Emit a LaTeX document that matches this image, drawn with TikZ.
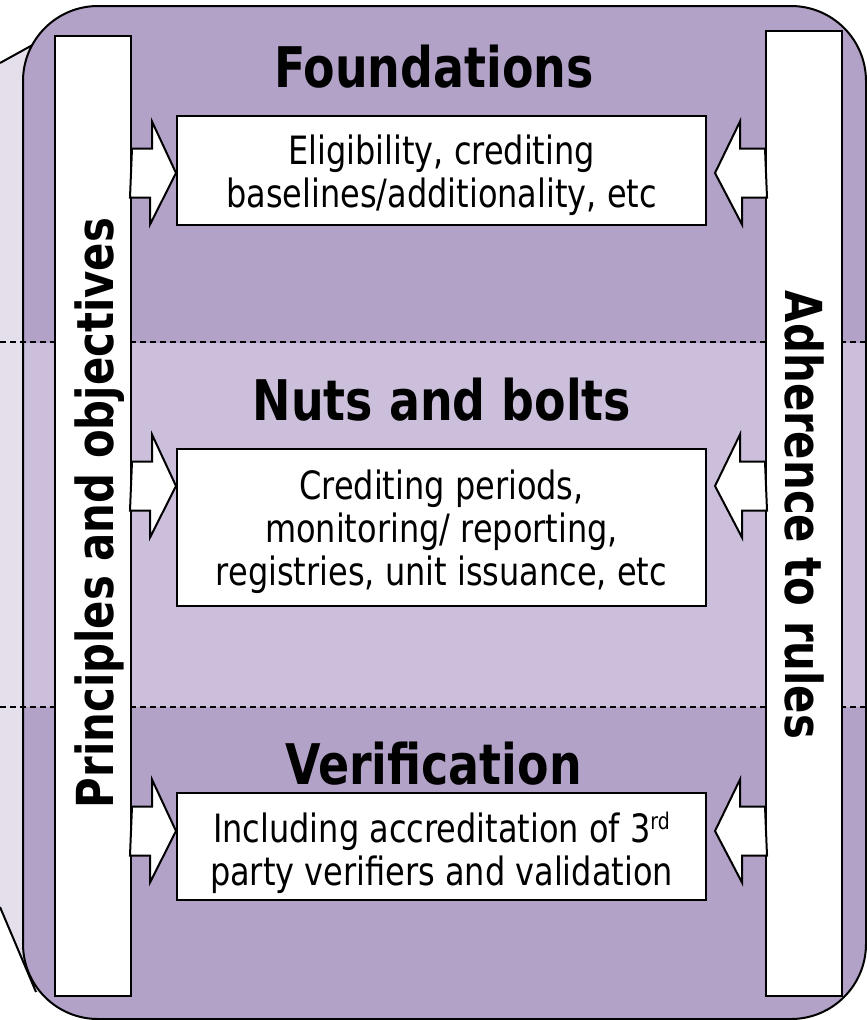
\documentclass[tikz,border=0pt]{standalone}
\usepackage{fontspec}
\usetikzlibrary{calc}
\newfontfamily\dvfont[FakeStretch=0.82]{DejaVu Sans}
\definecolor{pdark}{RGB}{178,162,200}
\definecolor{pmid}{RGB}{203,191,220}
\definecolor{plight}{RGB}{229,223,236}
\begin{document}
\begin{tikzpicture}[x=1pt,y=-1pt,line width=2pt,
  wbox/.style={draw=black,fill=white,inner sep=0pt,line width=2pt},
  titletext/.style={font=\dvfont\bfseries\fontsize{56}{60}\selectfont,anchor=base,inner sep=0pt},
  bodytext/.style={font=\dvfont\fontsize{39}{43}\selectfont,align=center,anchor=base,inner sep=0pt},
  sidetext/.style={font=\dvfont\bfseries\fontsize{51}{55}\selectfont,anchor=base,inner sep=0pt},
  blockarrow/.style={draw=black,fill=white,line width=2pt,line join=miter},
  sepline/.style={draw=black,line width=1.4pt,dash pattern=on 6pt off 4pt}]
\useasboundingbox (0,0) rectangle (867,1020);
% back page
\fill[plight] (0,63) -- (38,42) -- (70,42) -- (70,995) -- (36,992) -- (0,907) -- cycle;
\draw (0,63) -- (38,42);
\draw (0,907) -- (36,992);
% main panel
\fill[pdark,rounded corners=75pt] (23,6) rectangle (866,1019);
\fill[pmid] (23,343) rectangle (866,707);
\draw[rounded corners=75pt] (23,6) rectangle (866,1019);
\draw[sepline] (0,342) -- (867,342);
\draw[sepline] (0,707) -- (867,707);
% side bars
\node[wbox,minimum width=76pt,minimum height=960pt] (lbar) at (93,516) {};
\node[wbox,minimum width=76pt,minimum height=965pt] (rbar) at (804,513.5) {};
% boxes
\node[wbox,minimum width=529pt,minimum height=109pt] (fbox) at (441.5,170.5) {};
\node[wbox,minimum width=529pt,minimum height=157pt] (nbox) at (441.5,527.5) {};
\node[wbox,minimum width=529pt,minimum height=107pt] (vbox) at (441.5,846.5) {};
% arrow rows
\coordinate (c1) at (0,173);
\coordinate (c2) at (0,486);
\coordinate (c3) at (0,831);
\draw[blockarrow] (lbar.east |- c1) ++(0,-24.5) -- ++(20,0) -- ++(0,-27) -- (fbox.west |- c1) -- ++(-26,51.5) -- ++(0,-27) -- ++(-20,0) -- cycle;
\draw[blockarrow] (lbar.east |- c2) ++(0,-24.5) -- ++(20,0) -- ++(0,-27) -- (nbox.west |- c2) -- ++(-26,51.5) -- ++(0,-27) -- ++(-20,0) -- cycle;
\draw[blockarrow] (lbar.east |- c3) ++(0,-24.5) -- ++(20,0) -- ++(0,-27) -- (vbox.west |- c3) -- ++(-26,51.5) -- ++(0,-27) -- ++(-20,0) -- cycle;
\draw[blockarrow] (rbar.west |- c1) ++(0,-24.5) -- ++(-25,0) -- ++(0,-27) -- ($(fbox.east |- c1)+(8,0)$) -- ++(27,51.5) -- ++(0,-27) -- ++(25,0) -- cycle;
\draw[blockarrow] (rbar.west |- c2) ++(0,-24.5) -- ++(-25,0) -- ++(0,-27) -- ($(nbox.east |- c2)+(8,0)$) -- ++(27,51.5) -- ++(0,-27) -- ++(25,0) -- cycle;
\draw[blockarrow] (rbar.west |- c3) ++(0,-24.5) -- ++(-25,0) -- ++(0,-27) -- ($(vbox.east |- c3)+(8,0)$) -- ++(27,51.5) -- ++(0,-27) -- ++(25,0) -- cycle;
% titles
\node[titletext] (t1) at (434,87) {Foundations};
\node[titletext] (t2) at (442,420) {Nuts and bolts};
\node[titletext] (t3) at (433.5,784) {Verification};
% box texts (anchor = baseline of last line)
\node[bodytext] (b1) at (441.5,207) {Eligibility, crediting\\baselines/additionality, etc};
\node[bodytext] (b2) at (441.5,585) {Crediting periods,\\monitoring/ reporting,\\registries, unit issuance, etc};
\node[bodytext] (b3) at (441.5,885) {Including accreditation of 3\raisebox{13pt}{\fontsize{23}{23}\selectfont rd}\\party verifiers and validation};
% side texts
\node[sidetext,rotate=90] (s1) at (113,513) {Principles and objectives};
\node[sidetext,rotate=-90] (s2) at (785,515) {Adherence to rules};
\end{tikzpicture}
\end{document}
